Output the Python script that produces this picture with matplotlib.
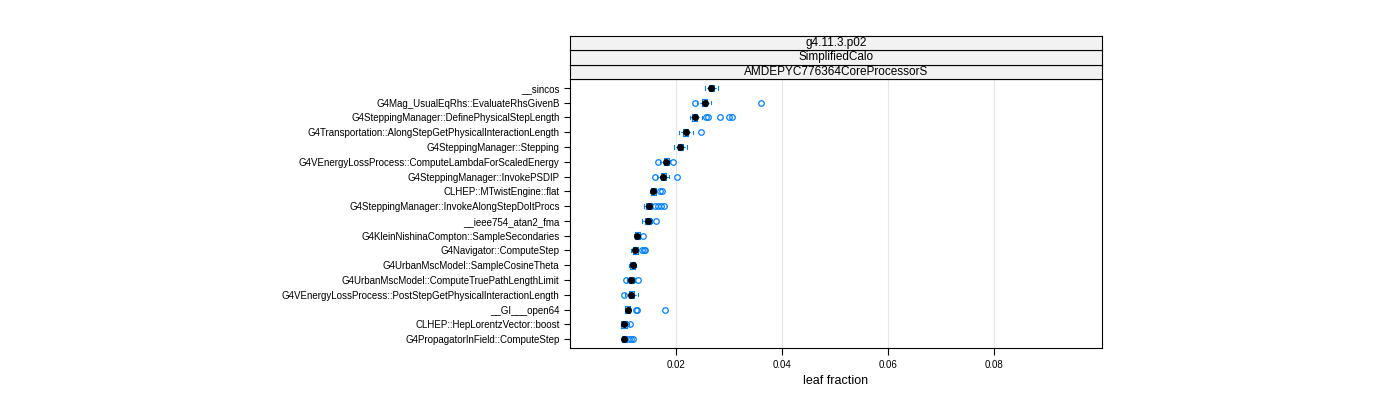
import matplotlib.pyplot as plt
import matplotlib
matplotlib.rcParams["font.family"] = "Liberation Sans"

functions = ["__sincos", "G4Mag_UsualEqRhs::EvaluateRhsGivenB", "G4SteppingManager::DefinePhysicalStepLength",
             "G4Transportation::AlongStepGetPhysicalInteractionLength", "G4SteppingManager::Stepping",
             "G4VEnergyLossProcess::ComputeLambdaForScaledEnergy", "G4SteppingManager::InvokePSDIP",
             "CLHEP::MTwistEngine::flat", "G4SteppingManager::InvokeAlongStepDoItProcs", "__ieee754_atan2_fma",
             "G4KleinNishinaCompton::SampleSecondaries", "G4Navigator::ComputeStep",
             "G4UrbanMscModel::SampleCosineTheta", "G4UrbanMscModel::ComputeTruePathLengthLimit",
             "G4VEnergyLossProcess::PostStepGetPhysicalInteractionLength", "__GI___open64",
             "CLHEP::HepLorentzVector::boost", "G4PropagatorInField::ComputeStep"]
medians = [0.0267, 0.0254, 0.0235, 0.0218, 0.0208, 0.0182, 0.0176, 0.0157, 0.0149, 0.0147,
           0.0127, 0.0123, 0.0118, 0.0116, 0.0116, 0.0109, 0.0102, 0.0102]
whisk_lo = [0.0255, 0.0240, 0.0226, 0.0206, 0.0196, 0.0170, 0.0164, 0.0151, 0.0139, 0.0136,
            0.0120, 0.0116, 0.0111, 0.0108, 0.0104, 0.0103, 0.0097, 0.0098]
whisk_hi = [0.0279, 0.0267, 0.0249, 0.0232, 0.0221, 0.0189, 0.0186, 0.0162, 0.0155, 0.0155,
            0.0132, 0.0129, 0.0124, 0.0122, 0.0129, 0.0114, 0.0111, 0.0108]
outliers = [[], [0.0235, 0.0360], [0.0256, 0.0260, 0.0284, 0.0301, 0.0306], [0.0247], [],
            [0.0167, 0.0194], [0.0160, 0.0201], [0.0170, 0.0173], [0.0161, 0.0167, 0.0172, 0.0177],
            [0.0163], [0.0138], [0.0135, 0.0139, 0.0141], [], [0.0105, 0.0129], [0.0102],
            [0.0124, 0.0127, 0.0180], [0.0113], [0.0112, 0.0115, 0.0118]]
strips = ["AMDEPYC776364CoreProcessorS", "SimplifiedCalo", "g4.11.3.p02"]
xticks = [0.02, 0.04, 0.06, 0.08]

blue = "#0080ff"
fig = plt.figure(figsize=(14, 4), dpi=100)
ax = fig.add_axes([570 / 1400, 52 / 400, 532 / 1400, 269 / 400])

stats = []
for i in range(len(functions)):
    m = medians[i]
    stats.append(dict(med=m, q1=max(whisk_lo[i], m - 0.0005), q3=min(whisk_hi[i], m + 0.0005),
                      whislo=whisk_lo[i], whishi=whisk_hi[i], fliers=outliers[i]))
pos = list(range(len(functions), 0, -1))
ax.bxp(stats, positions=pos, vert=False, widths=0.45, showfliers=True,
       boxprops=dict(color=blue, lw=0.8),
       whiskerprops=dict(color=blue, lw=0.8, ls=(0, (2, 2))),
       capprops=dict(color=blue, lw=0.8),
       medianprops=dict(lw=0),
       flierprops=dict(marker="o", mfc="none", mec=blue, ms=4, mew=0.9))
ax.plot(medians, pos, "o", color="black", ms=4, zorder=5)

ax.set_xlim(0, 0.1004)
ax.set_ylim(0.4, len(functions) + 0.6)
ax.set_xticks(xticks)
ax.set_xticklabels([f"{t:.2f}" for t in xticks], fontsize=7)
ax.set_yticks(pos)
ax.set_yticklabels(functions, fontsize=7)
ax.tick_params(length=5, width=0.8, top=False)
ax.tick_params(axis="y", length=4)
for t in xticks:
    ax.axvline(t, color="#e6e6e6", lw=0.8, zorder=0)
ax.set_xlabel("leaf fraction", fontsize=9)
for s in ax.spines.values():
    s.set_linewidth(0.8)

h = 14.5 / 400
for k, txt in enumerate(strips):
    sa = fig.add_axes([570 / 1400, (400 - 79) / 400 + k * h, 532 / 1400, h])
    sa.set_facecolor("#f2f2f2")
    sa.set_xticks([])
    sa.set_yticks([])
    sa.text(0.5, 0.5, txt, ha="center", va="center", fontsize=8.5, transform=sa.transAxes)
    for s in sa.spines.values():
        s.set_linewidth(0.8)

fig.savefig("out.png")
